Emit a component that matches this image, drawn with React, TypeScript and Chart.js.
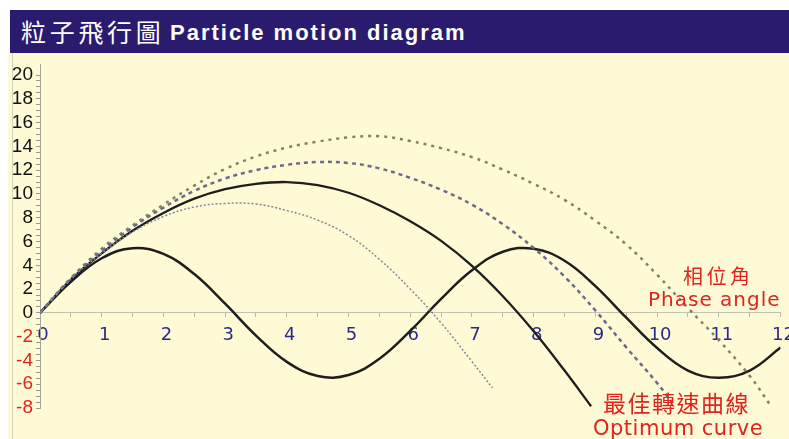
import React, { useEffect, useRef } from "react";
import { Chart, registerables } from "chart.js";

Chart.register(...registerables);

// Phase angle (solid sine-like curve)
const phaseX = [0, 0.5, 1, 1.5, 2, 2.5, 3, 3.5, 4, 4.5, 5, 5.5, 6, 6.5, 7, 7.5, 8, 8.5, 9, 9.5, 10, 10.5, 11, 11.5, 12];
const phaseY = [0, 2.61, 4.59, 5.44, 4.96, 3.26, 0.77, -1.91, -4.12, -5.31, -5.23, -3.86, -1.52, 1.18, 3.58, 5.14, 5.39, 4.38, 2.25, -0.41, -2.96, -4.85, -5.45, -4.85, -2.92];

// Optimum curve (solid)
const optX = [0, 0.5, 1, 1.5, 2, 2.5, 3, 3.5, 4, 4.5, 5, 5.5, 6, 6.5, 7, 7.5, 8, 8.5, 8.93];
const optY = [0, 2.8, 5.0, 6.9, 8.4, 9.6, 10.4, 10.85, 11.0, 10.75, 10.1, 9.05, 7.7, 6.05, 3.95, 1.4, -1.55, -4.85, -7.85];

// Low trajectory (thin grey dotted)
const lowX = [0, 0.5, 1, 1.5, 2, 2.5, 3, 3.5, 4, 4.5, 5, 5.5, 6, 6.5, 7, 7.33];
const lowY = [0, 2.85, 5.0, 6.8, 8.1, 8.9, 9.2, 9.15, 8.6, 7.8, 6.5, 4.5, 2.0, -0.85, -4.1, -6.3];

// Middle trajectory (blue-grey dashed)
const midX = [0, 0.5, 1, 1.5, 2, 2.5, 3, 3.5, 4, 4.5, 5, 5.5, 6, 6.5, 7, 7.5, 8, 8.5, 9, 9.5, 10, 10.25];
const midY = [0, 2.9, 5.2, 7.2, 8.85, 10.25, 11.3, 12.0, 12.45, 12.68, 12.6, 12.15, 11.35, 10.35, 9.1, 7.45, 5.45, 3.05, 0.2, -2.9, -5.9, -7.6];

// High trajectory (olive dashed)
const highX = [0, 0.5, 1, 1.5, 2, 2.5, 3, 3.5, 4, 4.5, 5, 5.5, 6, 6.5, 7, 7.5, 8, 8.5, 9, 9.5, 10, 10.5, 11, 11.5, 11.84];
const highY = [0, 2.9, 5.4, 7.35, 9.1, 10.7, 12.1, 13.15, 13.9, 14.4, 14.75, 14.85, 14.45, 13.85, 13.1, 12.05, 10.85, 9.5, 7.75, 5.75, 3.2, 0.4, -2.3, -5.3, -7.8];

const xMin = 0;
const xMax = 12;
const yMin = -8;
const yMax = 20;

const RED = "#e0231c";

const pts = (xs: number[], ys: number[]) => xs.map((x, i) => ({ x, y: ys[i] }));

export default function App() {
  const ref = useRef<HTMLCanvasElement>(null);

  useEffect(() => {
    const canvas = ref.current;
    if (!canvas) return;
    const chart = new Chart(canvas, {
      type: "line",
      data: {
        datasets: [
          {
            label: "low",
            data: pts(lowX, lowY),
            borderColor: "#85859a",
            borderWidth: 1.5,
            borderDash: [2, 2],
            tension: 0.4,
            pointRadius: 0,
          },
          {
            label: "mid",
            data: pts(midX, midY),
            borderColor: "#6a6a8e",
            borderWidth: 2.5,
            borderDash: [4, 4],
            tension: 0.4,
            pointRadius: 0,
          },
          {
            label: "high",
            data: pts(highX, highY),
            borderColor: "#7e8462",
            borderWidth: 2.5,
            borderDash: [3, 5],
            tension: 0.4,
            pointRadius: 0,
          },
          {
            label: "optimum",
            data: pts(optX, optY),
            borderColor: "#1e1e1e",
            borderWidth: 2.3,
            tension: 0.4,
            pointRadius: 0,
          },
          {
            label: "phase",
            data: pts(phaseX, phaseY),
            borderColor: "#1e1e1e",
            borderWidth: 2.5,
            tension: 0.4,
            pointRadius: 0,
          },
        ],
      },
      options: {
        responsive: false,
        animation: false,
        layout: { padding: { left: 8, right: 15, top: 75, bottom: 31 } },
        plugins: { legend: { display: false }, tooltip: { enabled: false } },
        scales: {
          x: {
            type: "linear",
            position: { y: 0 } as any,
            min: xMin,
            max: xMax,
            ticks: {
              stepSize: 0.5,
              autoSkip: false,
              maxRotation: 0,
              padding: 8,
              labelOffset: 3,
              color: "#2c2a88",
              font: { family: "DejaVu Sans", size: 18 },
              callback: (v: any) => (Number.isInteger(Number(v)) ? String(v) : ""),
            },
            grid: { drawOnChartArea: false, tickLength: 4, color: "#b8b8a6" },
            border: { color: "#c2c2b0", width: 1 },
          },
          y: {
            type: "linear",
            position: "left",
            min: yMin,
            max: yMax,
            afterFit: (s: any) => {
              s.width = 32;
            },
            ticks: {
              stepSize: 0.5,
              autoSkip: false,
              padding: 3,
              color: (c: any) => (c.tick && c.tick.value < 0 ? RED : "#111111"),
              font: { family: "Liberation Sans", size: 19 },
              callback: (v: any) => (Number(v) % 2 === 0 ? String(v) : ""),
            },
            grid: { drawOnChartArea: false, tickLength: 4, color: "#9a9a90" },
            border: { color: "#a8a89c", width: 1 },
          },
        },
      },
    });
    return () => chart.destroy();
  }, []);

  const abs = (s: React.CSSProperties): React.CSSProperties => ({ position: "absolute", whiteSpace: "nowrap", lineHeight: 1, ...s });

  return (
    <div style={{ position: "absolute", left: 0, top: 0, width: 789, height: 439, overflow: "hidden", background: "#ffffff" }}>
      <div style={abs({ left: 8, top: 53, width: 781, height: 386, background: "#fdfad5" })} />
      <div style={abs({ left: 12, top: 53, width: 1, height: 386, background: "#d6d4b8" })} />
      <div style={abs({ left: 40, top: 64, width: 1, height: 12, background: "#a8a89c" })} />
      <div style={abs({ left: 10, top: 10, width: 779, height: 43, background: "#2b1b6e" })} />
      <div style={abs({ left: 21, top: 19, color: "#ffffff", fontFamily: "'Noto Sans CJK TC'", fontSize: 25, letterSpacing: 3.7 })}>粒子飛行圖</div>
      <div style={abs({ left: 170, top: 22, color: "#ffffff", fontFamily: "'Liberation Sans'", fontWeight: 700, fontSize: 22, letterSpacing: 2 })}>Particle motion diagram</div>
      <canvas ref={ref} width={800} height={439} style={{ position: "absolute", left: 0, top: 0, width: 800, height: 439 }} />
      <div style={abs({ left: 683, top: 266, color: RED, fontFamily: "'Noto Sans CJK TC'", fontSize: 20, letterSpacing: 3.5 })}>相位角</div>
      <div style={abs({ left: 648, top: 289, color: RED, fontFamily: "'DejaVu Sans'", fontSize: 20, letterSpacing: 1 })}>Phase angle</div>
      <div style={abs({ left: 603, top: 391, color: RED, fontFamily: "'Noto Sans CJK TC'", fontSize: 23, letterSpacing: 1.5 })}>最佳轉速曲線</div>
      <div style={abs({ left: 593, top: 418, color: RED, fontFamily: "'DejaVu Sans'", fontSize: 21, letterSpacing: 0.5 })}>Optimum curve</div>
    </div>
  );
}
